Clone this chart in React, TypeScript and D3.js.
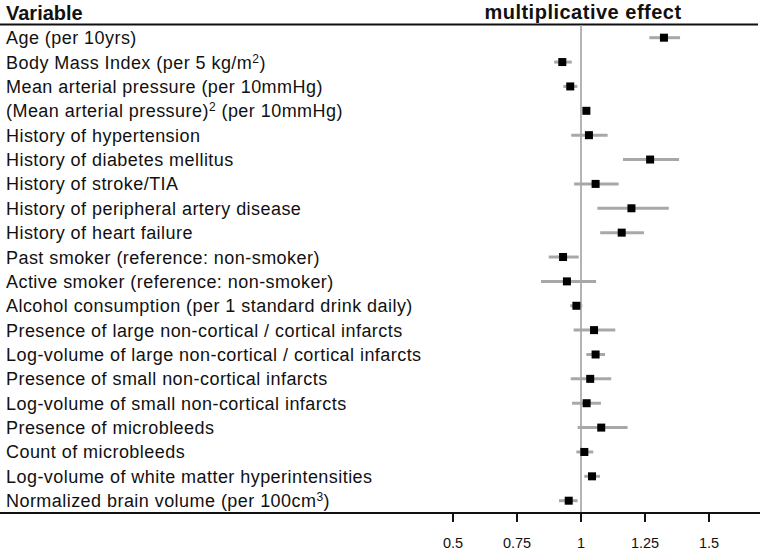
import React from "react";
import * as d3 from "d3";

const variables: string[] = [
  "Age (per 10yrs)",
  "Body Mass Index (per 5 kg/m^2)",
  "Mean arterial pressure (per 10mmHg)",
  "(Mean arterial pressure)^2 (per 10mmHg)",
  "History of hypertension",
  "History of diabetes mellitus",
  "History of stroke/TIA",
  "History of peripheral artery disease",
  "History of heart failure",
  "Past smoker (reference: non-smoker)",
  "Active smoker (reference: non-smoker)",
  "Alcohol consumption (per 1 standard drink daily)",
  "Presence of large non-cortical / cortical infarcts",
  "Log-volume of large non-cortical / cortical infarcts",
  "Presence of small non-cortical infarcts",
  "Log-volume of small non-cortical infarcts",
  "Presence of microbleeds",
  "Count of microbleeds",
  "Log-volume of white matter hyperintensities",
  "Normalized brain volume (per 100cm^3)",
];

const estimate: number[] = [
  1.324, 0.927, 0.958, 1.021, 1.031, 1.27, 1.057, 1.197, 1.159, 0.93,
  0.945, 0.982, 1.051, 1.057, 1.036, 1.022, 1.079, 1.013, 1.043, 0.952,
];
const lower: number[] = [
  1.267, 0.895, 0.931, 1.015, 0.962, 1.164, 0.973, 1.064, 1.075, 0.874,
  0.844, 0.958, 0.971, 1.021, 0.96, 0.965, 0.987, 0.982, 1.013, 0.914,
];
const upper: number[] = [
  1.387, 0.964, 0.986, 1.027, 1.104, 1.383, 1.147, 1.343, 1.246, 0.991,
  1.059, 1.005, 1.134, 1.094, 1.118, 1.078, 1.182, 1.048, 1.074, 0.987,
];
const tickValues: number[] = [0.5, 0.75, 1, 1.25, 1.5];
const tickLabels: string[] = ["0.5", "0.75", "1", "1.25", "1.5"];

const W = 760;
const H = 560;
const FONT = "Liberation Sans, Arial, Helvetica, sans-serif";

function renderLabel(s: string) {
  const parts = s.split(/\^(\d)/);
  return parts.map((p, i) =>
    i % 2 === 1 ? (
      <tspan key={i} fontSize={12} dy={-6}>
        {p}
      </tspan>
    ) : (
      <tspan key={i} dy={i > 0 ? 6 : 0}>
        {p}
      </tspan>
    )
  );
}

export default function App() {
  const x = d3.scaleLinear().domain([0.5, 1.5]).range([453, 709]);
  const y = d3
    .scalePoint<string>()
    .domain(variables)
    .range([37.7, 500.7]);
  const topY = 24.5;
  const axisY = 513;

  return (
    <svg
      width={W}
      height={H}
      style={{ position: "absolute", left: 0, top: 0, background: "#fff" }}
      fontFamily={FONT}
    >
      <rect x={0} y={0} width={W} height={H} fill="#fff" />
      <text x={6} y={20} fontSize={20} fontWeight="bold" fill="#111">
        Variable
      </text>
      <text
        x={583}
        y={18.5}
        fontSize={20}
        fontWeight="bold"
        fill="#111"
        textAnchor="middle"
        letterSpacing={0.5}
      >
        multiplicative effect
      </text>
      <line x1={0} x2={758} y1={topY} y2={topY} stroke="#111" strokeWidth={2} />

      {/* reference line at 1 */}
      <line
        x1={x(1)}
        x2={x(1)}
        y1={topY + 1}
        y2={axisY}
        stroke="#b4b4b4"
        strokeWidth={2}
      />

      {variables.map((v, i) => {
        const cy = y(v) as number;
        return (
          <g key={v}>
            <text
              x={6}
              y={cy + 6.5}
              fontSize={18}
              letterSpacing={0.45}
              fill="#111"
            >
              {renderLabel(v)}
            </text>
            <line
              x1={x(lower[i])}
              x2={x(upper[i])}
              y1={cy}
              y2={cy}
              stroke="#a8a8a8"
              strokeWidth={3}
            />
            <rect
              x={x(estimate[i]) - 4}
              y={cy - 4}
              width={8}
              height={8}
              fill="#000"
            />
          </g>
        );
      })}

      <line x1={0} x2={760} y1={axisY} y2={axisY} stroke="#111" strokeWidth={2} />
      {tickValues.map((t, i) => (
        <g key={t}>
          <line
            x1={x(t)}
            x2={x(t)}
            y1={axisY}
            y2={axisY + 9}
            stroke="#111"
            strokeWidth={2}
          />
          <text
            x={x(t)}
            y={547.5}
            fontSize={14.5}
            fill="#111"
            textAnchor="middle"
          >
            {tickLabels[i]}
          </text>
        </g>
      ))}
    </svg>
  );
}
